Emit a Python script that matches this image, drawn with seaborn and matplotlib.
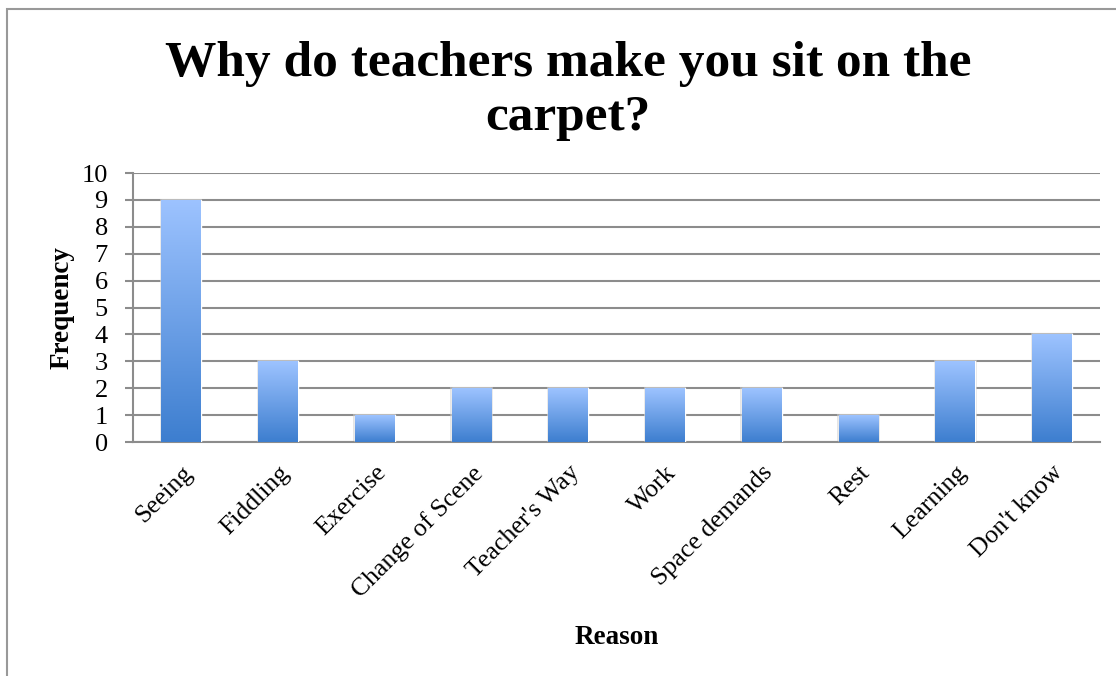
import matplotlib
matplotlib.use("Agg")
import matplotlib.pyplot as plt
import numpy as np
import pandas as pd
import seaborn as sns
from matplotlib.colors import LinearSegmentedColormap
from matplotlib.patches import Rectangle

# data
reasons = ["Seeing", "Fiddling", "Exercise", "Change of Scene", "Teacher's Way",
           "Work", "Space demands", "Rest", "Learning", "Don't know"]
frequency = [9, 3, 1, 2, 2, 2, 2, 1, 3, 4]

df = pd.DataFrame({"Reason": reasons, "Frequency": frequency})

sns.set_theme(style="white")
plt.rcParams["font.family"] = ["Liberation Serif", "DejaVu Serif"]
plt.rcParams["text.color"] = "black"

fig = plt.figure(figsize=(11.16, 6.76), dpi=100)
ax = fig.add_axes([0.119, 0.346, 0.867, 0.398])

sns.barplot(data=df, x="Reason", y="Frequency", color="#3D7ECF", width=0.41, ax=ax,
            zorder=3)

# gradient fill for each bar (light at top, darker at bottom)
grad = LinearSegmentedColormap.from_list("bar", ["#3D7ECF", "#9DC3FF"])
for p in ax.patches:
    x0, y0 = p.get_x(), p.get_y()
    w, h = p.get_width(), p.get_height()
    # soft shadow
    ax.add_patch(Rectangle((x0 - 0.015, y0), w + 0.03, h + 0.04, facecolor="#cccccc",
                           edgecolor="none", alpha=0.5, zorder=2))
    img = ax.imshow(np.linspace(0, 1, 256).reshape(-1, 1), cmap=grad, origin="lower",
                    extent=[x0, x0 + w, y0, y0 + h], aspect="auto", zorder=4)
    img.set_clip_path(p)

ax.set_xlim(-0.5, len(reasons) - 0.5)
ax.set_ylim(0, 10)
ax.set_yticks(range(0, 11))
ax.yaxis.grid(True, color="#8c8c8c", linewidth=1.5, zorder=0)
ax.set_axisbelow(True)

for s in ["top", "right"]:
    ax.spines[s].set_visible(False)
for s in ["left", "bottom"]:
    ax.spines[s].set_color("#8c8c8c")
    ax.spines[s].set_linewidth(1.5)

ax.tick_params(axis="y", left=True, length=6, width=1.5, color="#8c8c8c",
               labelsize=19, pad=12, labelcolor="black")
ax.tick_params(axis="x", bottom=False, labelsize=18.5, labelcolor="black", pad=8)
plt.setp(ax.get_xticklabels(), rotation=45, ha="right", rotation_mode="anchor")

ax.set_xlabel("Reason", fontsize=19.5, fontweight="bold", labelpad=17, color="black")
ax.set_ylabel("Frequency", fontsize=19.5, fontweight="bold", labelpad=5, color="black")

fig.text(0.509, 0.866, "Why do teachers make you sit on the\ncarpet?", ha="center",
         va="center", fontsize=37, fontweight="bold", linespacing=1.23, color="black")

# outer chart border (cropped at right and bottom)
fig.add_artist(Rectangle((0.0065, -0.01), 1.1, 0.998 - 0.0118 + 0.01 - 0.0001,
                         transform=fig.transFigure, fill=False, edgecolor="#999999",
                         linewidth=1.5))

fig.savefig("out.png", dpi=100)
